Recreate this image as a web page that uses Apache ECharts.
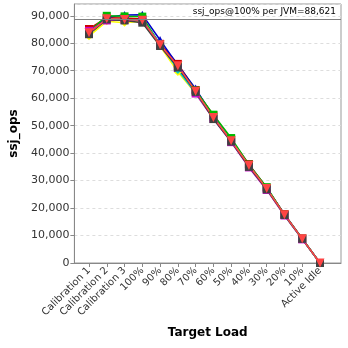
<!DOCTYPE html>
<html><head><meta charset="utf-8">
<script src="https://cdn.jsdelivr.net/npm/echarts@6/dist/echarts.min.js"></script>
<style>html,body{margin:0;padding:0;background:#fff}#c{width:348px;height:348px}</style>
</head><body><div id="c"></div>
<script>
var categories = ['Calibration 1','Calibration 2','Calibration 3','100%','90%','80%','70%','60%','50%','40%','30%','20%','10%','Active Idle'];
var yTicks = [0,10000,20000,30000,40000,50000,60000,70000,80000,90000];
var refValue = 88621;
var refLabel = 'ssj_ops@100% per JVM=88,621';
var jvmRed     = [85200,89300,89200,88800,79800,72500,63000,53800,45000,36000,27400,17800,8900,0];
var jvmBlue    = [84000,89500,90300,90400,81200,72000,63500,53300,44800,35600,27200,17700,8800,0];
var jvmGreen   = [84200,90000,89800,89700,79500,71500,62800,54000,45500,35800,27600,17600,8850,0];
var jvmYellow  = [82600,88000,87500,88000,79000,69500,61800,52800,44500,35200,26900,17400,8700,0];
var jvmMagenta = [84500,88300,88500,88200,79200,71000,61700,52500,44000,34800,26600,17300,8600,0];
var jvmCyan    = [83500,88800,88600,88500,79800,70300,62000,53000,44500,35300,27000,17500,8750,0];
var jvmGray    = [83300,88700,88300,87500,79000,71200,62300,52400,44200,35000,26800,17500,8800,0];
var jvmLtRed   = [83800,88900,88700,88400,79500,71800,62500,53000,44500,35500,27100,17600,8800,0];

var seriesDefs = [
  {name:'JVM 1', data:jvmRed, color:'#cc0000', symbol:'rect', size:8},
  {name:'JVM 2', data:jvmBlue, color:'#0000cc', symbol:'triangle', size:8},
  {name:'JVM 3', data:jvmGreen, color:'#00bb00', symbol:'rect', size:8},
  {name:'JVM 4', data:jvmYellow, color:'#ffff00', symbol:'diamond', size:8},
  {name:'JVM 5', data:jvmMagenta, color:'#cc00cc', symbol:'rect', size:8},
  {name:'JVM 6', data:jvmCyan, color:'#00cccc', symbol:'diamond', size:8},
  {name:'JVM 7', data:jvmGray, color:'#404040', symbol:'rect', size:8},
  {name:'JVM 8', data:jvmLtRed, color:'#ff4444', symbol:'path://M0,0 L10,0 L5,10 Z', size:9}
];
var yMax = 94300;
var font = 'DejaVu Sans';
var series = seriesDefs.map(function(s){
  return {type:'line', name:s.name, xAxisIndex:1, yAxisIndex:1, data:s.data,
    symbol:s.symbol, symbolSize:s.size, showSymbol:true,
    lineStyle:{color:s.color, width:1.5}, itemStyle:{color:s.color}, z:3, animation:false};
});
series.push({type:'line', xAxisIndex:0, yAxisIndex:0, data:[], animation:false, silent:true,
  markLine:{symbol:'none', silent:true, animation:false,
    lineStyle:{color:'#808080', type:'solid', width:1},
    label:{show:true, position:'insideEndTop', formatter:refLabel, color:'#000', fontFamily:font, fontSize:9, distance:[5,3]},
    data:[{yAxis:refValue}]}});

var chart = echarts.init(document.getElementById('c'), null, {renderer:'canvas'});
chart.setOption({
  animation:false,
  backgroundColor:'#fff',
  grid:[
    {left:68, right:7, top:4, bottom:85, show:true, borderColor:'#999', borderWidth:1, backgroundColor:'#fff'},
    {left:89, right:28, top:4, bottom:85}
  ],
  xAxis:[
    {gridIndex:0, type:'value', min:0, max:1, axisLine:{show:true, lineStyle:{color:'#888'}}, axisTick:{show:false}, axisLabel:{show:false}, splitLine:{show:false},
     name:'Target Load', nameLocation:'middle', nameGap:64, nameTextStyle:{fontFamily:font, fontWeight:'bold', fontSize:12, color:'#000'}},
    {gridIndex:1, type:'category', data:categories, boundaryGap:false,
     axisLine:{show:false}, axisTick:{show:true, length:4, lineStyle:{color:'#888'}},
     axisLabel:{rotate:45, interval:0, fontFamily:font, fontSize:10, color:'#333', margin:6}, splitLine:{show:false}}
  ],
  yAxis:[
    {gridIndex:0, type:'value', min:0, max:yMax, interval:10000,
     axisLine:{show:true, lineStyle:{color:'#888'}}, axisTick:{show:true, length:4, lineStyle:{color:'#888'}},
     axisLabel:{showMaxLabel:false, fontFamily:font, fontSize:11, color:'#333', margin:5,
       formatter:function(v){return yTicks.indexOf(v)>=0 ? v.toLocaleString('en-US') : '';}},
     splitLine:{show:true, lineStyle:{color:'#ddd', type:[3,3]}},
     name:'ssj_ops', nameLocation:'middle', nameGap:47, nameRotate:90, nameTextStyle:{fontFamily:font, fontWeight:'bold', fontSize:12, color:'#000'}},
    {gridIndex:1, type:'value', min:0, max:yMax, interval:10000, show:false, splitLine:{show:false}}
  ],
  series:series
});
</script></body></html>
